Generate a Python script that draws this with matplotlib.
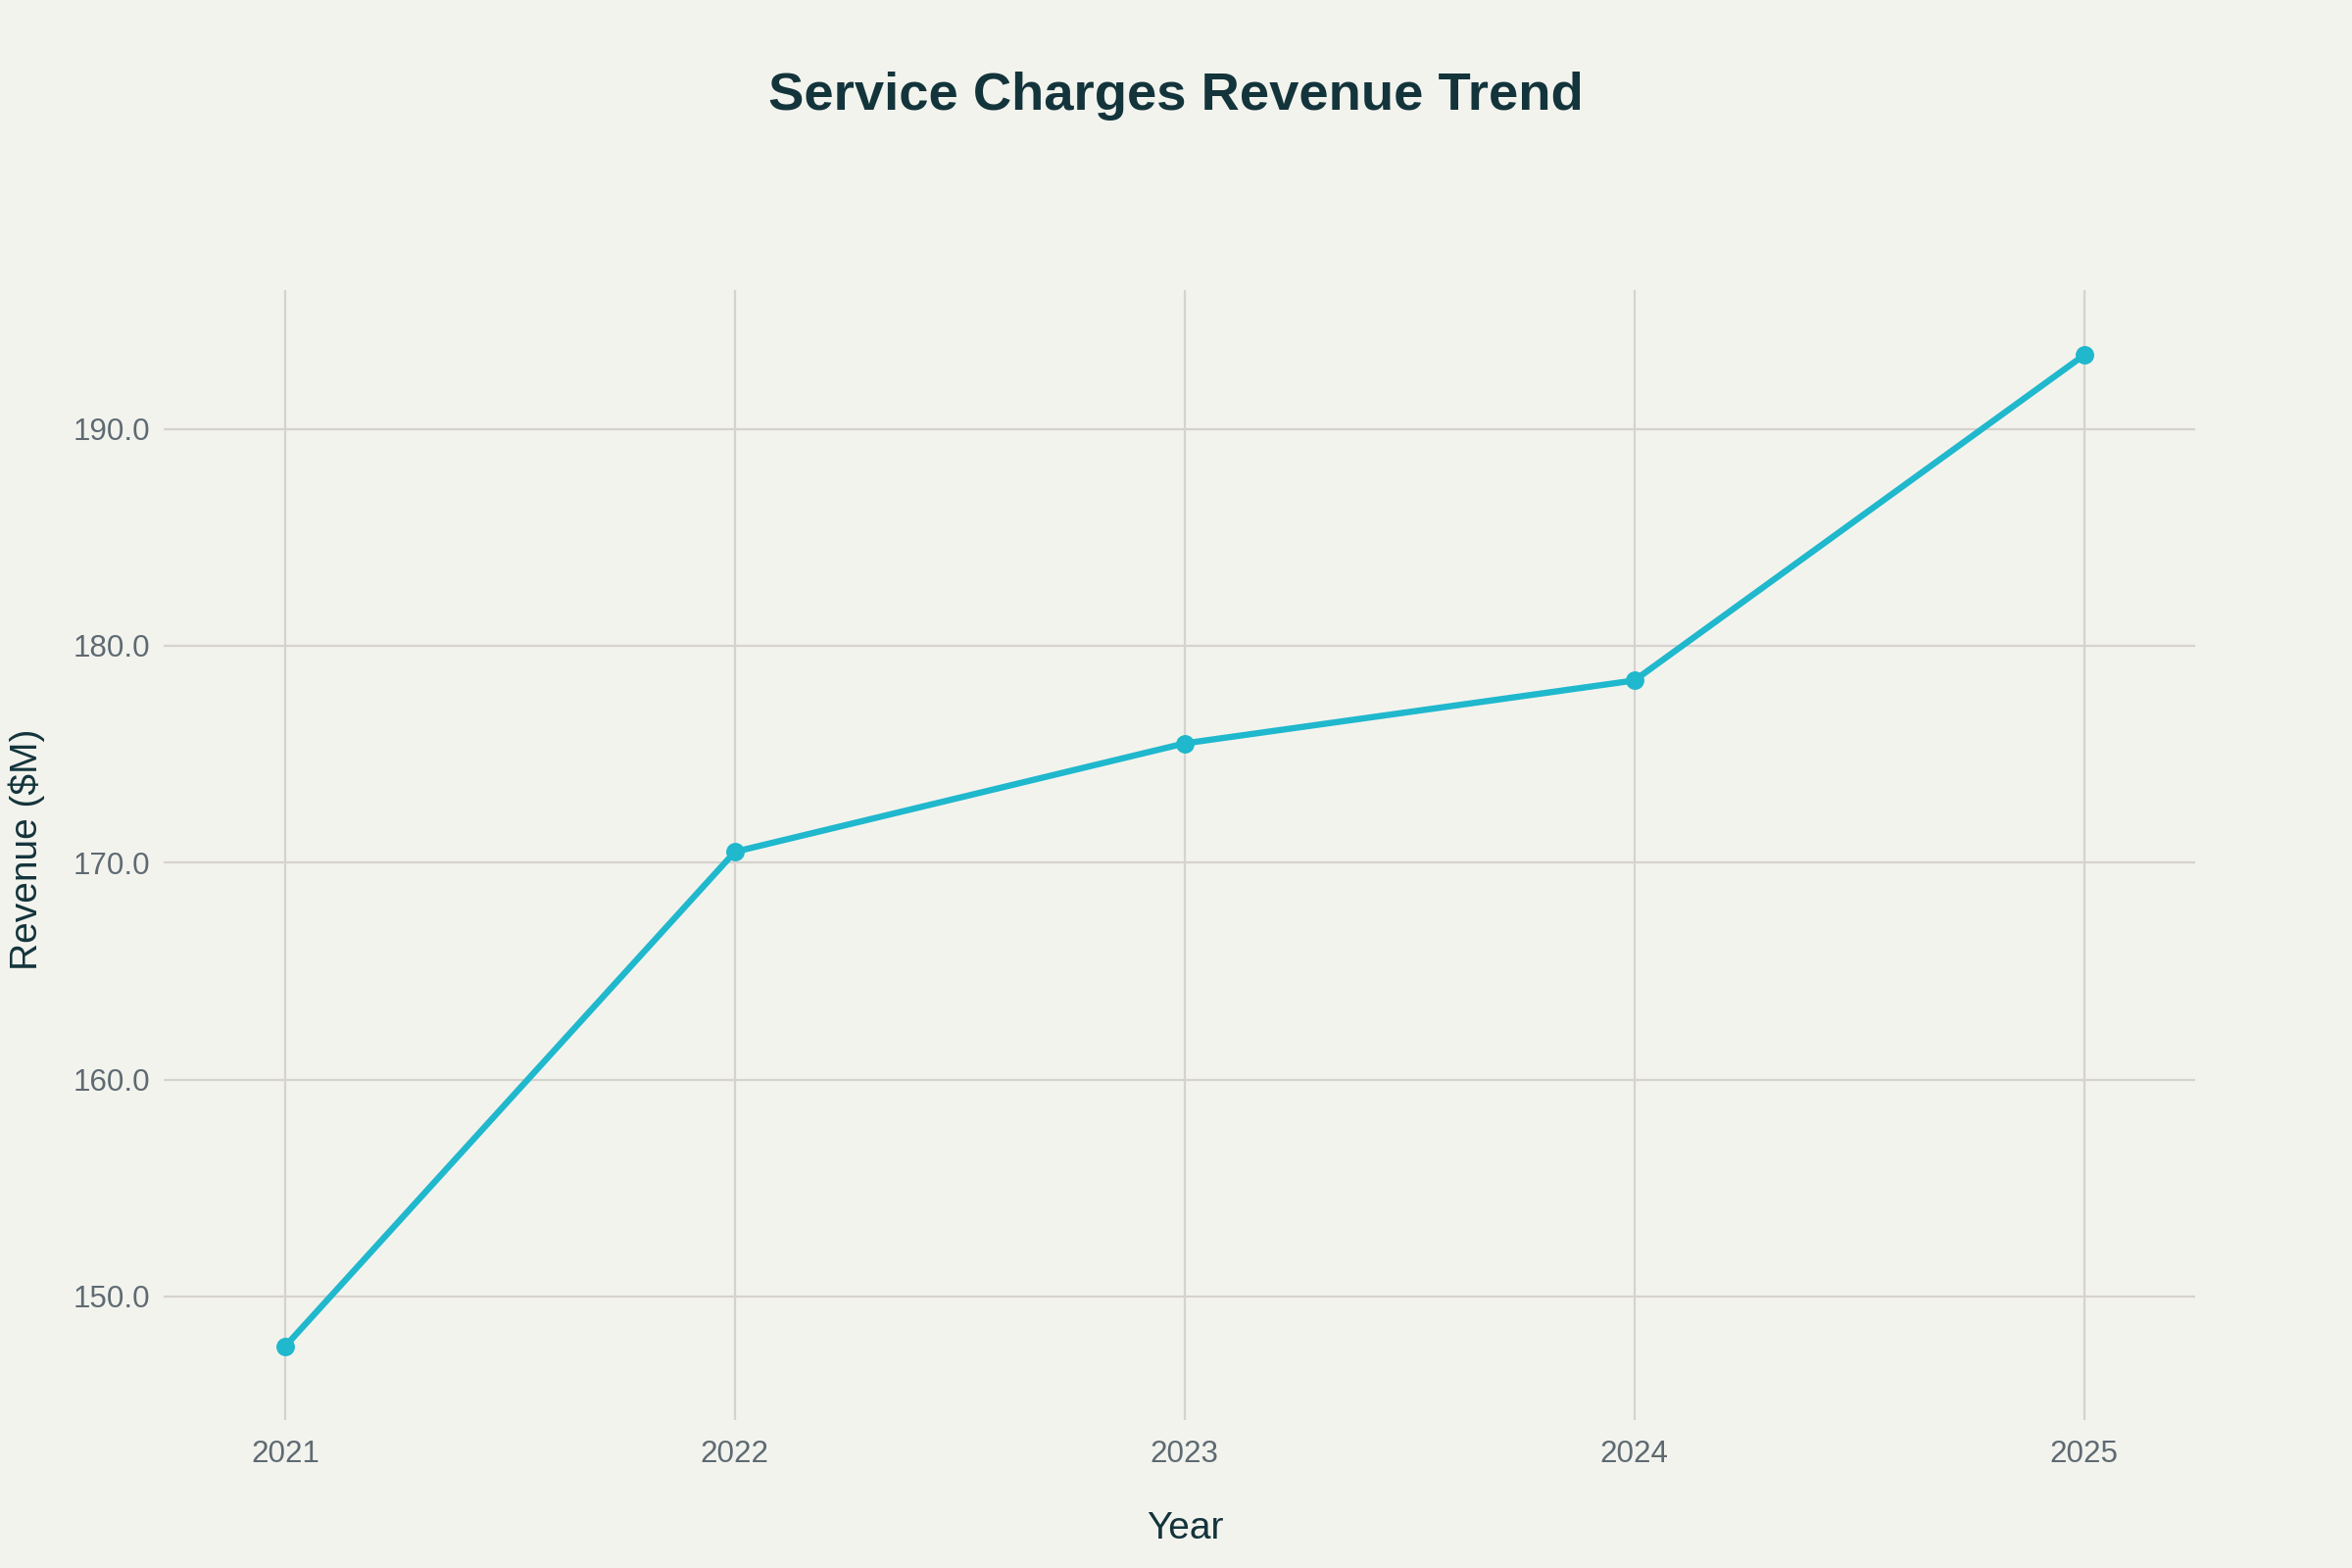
import matplotlib
matplotlib.use("Agg")
import matplotlib.pyplot as plt

years = [2021, 2022, 2023, 2024, 2025]
revenue = [147.7, 170.5, 175.5, 178.4, 193.4]
y_ticks = [150, 160, 170, 180, 190]
y_tick_labels = ["150.0", "160.0", "170.0", "180.0", "190.0"]

plt.rcParams['font.family'] = ['Liberation Sans', 'DejaVu Sans']

bg = "#F3F3EE"
fig = plt.figure(figsize=(12, 8), dpi=200, facecolor=bg)
ax = fig.add_axes([0.0742, 0.10125, 0.8591, 0.71375], facecolor=bg)

ax.plot(years, revenue, color="#1FB8CD", linewidth=2.3, marker="o",
        markersize=5.8, zorder=3, solid_capstyle="round")

ax.set_xlim(2020.754, 2025.247)
ax.set_ylim(144.8, 196.4)
ax.set_xticks(years)
ax.set_xticklabels([str(y) for y in years])
ax.set_yticks(y_ticks)
ax.set_yticklabels(y_tick_labels)

ax.grid(True, color="#D6D2CD", linewidth=0.8)
ax.set_axisbelow(True)
for s in ax.spines.values():
    s.set_visible(False)
ax.tick_params(axis="both", length=4, width=0.8, color="#D6D2CD",
               labelsize=11.3, labelcolor="#5E6A72")
ax.tick_params(axis="x", pad=7)
ax.tick_params(axis="y", pad=5)

fig.text(1209 / 2400, 1 - 1560 / 1600, "Year", ha="center", va="center",
         fontsize=14, color="#13343B")
fig.text(27 / 2400, 1 - 867 / 1600, "Revenue ($M)", ha="center", va="center",
         rotation=90, fontsize=14, color="#13343B")

fig.text(0.5, 0.939, "Service Charges Revenue Trend", ha="center", va="center",
         fontsize=19.6, fontweight="bold", color="#13343B")

fig.savefig("out.png", dpi=200, facecolor=bg)
